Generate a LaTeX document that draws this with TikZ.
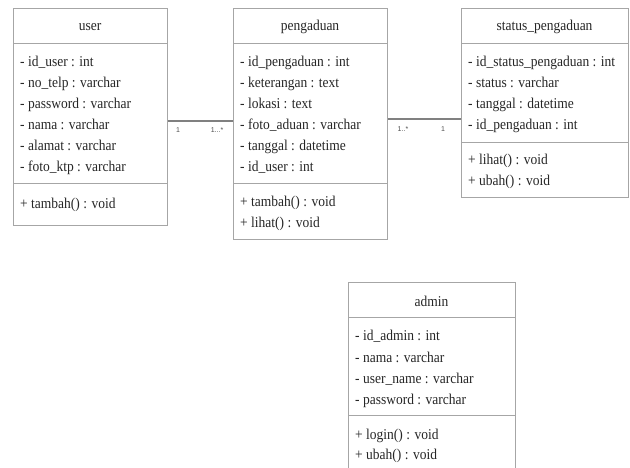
\documentclass[tikz,border=0pt]{standalone}
\usepackage{fontspec}
\setmainfont{Liberation Serif}
\newfontfamily\umlfont[FakeStretch=0.9]{Liberation Serif}
\newfontfamily\multfont{Liberation Sans}
\begin{document}
\begin{tikzpicture}[x=1pt,y=-1pt,
  box/.style={draw=black!35, line width=0.9pt, inner sep=0pt, anchor=north west},
  sep/.style={draw=black!35, line width=0.9pt},
  title/.style={font=\umlfont\fontsize{15}{17}\selectfont, text=black!85, anchor=base},
  row/.style={font=\umlfont\fontsize{15}{17}\selectfont, text=black!85, anchor=base west, inner sep=0pt},
  assoc/.style={draw=black!50, line width=1.8pt},
  mult/.style={font=\multfont\fontsize{7}{8}\selectfont, text=black!70, anchor=base, inner sep=0pt}]
\useasboundingbox (0,0) rectangle (630,468);
% user
\node[box, minimum width=154pt, minimum height=217pt] (user) at (13,8) {};
\draw[sep] (13,43) -- (167,43) (13,183) -- (167,183);
\node[title] (ut) at (90,31) {user};
\node[row] (u1) at (20,67) {- id\_user : int};
\node[row] (u2) at (20,88) {- no\_telp : varchar};
\node[row] (u3) at (20,109) {- password : varchar};
\node[row] (u4) at (20,130) {- nama : varchar};
\node[row] (u5) at (20,151) {- alamat : varchar};
\node[row] (u6) at (20,172) {- foto\_ktp : varchar};
\node[row] (u7) at (20,209) {+ tambah() : void};
% pengaduan
\node[box, minimum width=154pt, minimum height=231pt] (peng) at (233,8) {};
\draw[sep] (233,43) -- (387,43) (233,183) -- (387,183);
\node[title] (pt) at (310,31) {pengaduan};
\node[row] (p1) at (240,67) {- id\_pengaduan : int};
\node[row] (p2) at (240,88) {- keterangan : text};
\node[row] (p3) at (240,109) {- lokasi : text};
\node[row] (p4) at (240,130) {- foto\_aduan : varchar};
\node[row] (p5) at (240,151) {- tanggal : datetime};
\node[row] (p6) at (240,172) {- id\_user : int};
\node[row] (p7) at (240,207) {+ tambah() : void};
\node[row] (p8) at (240,228) {+ lihat() : void};
% status_pengaduan
\node[box, minimum width=167pt, minimum height=189pt] (stat) at (461,8) {};
\draw[sep] (461,43) -- (628,43) (461,142) -- (628,142);
\node[title] (st) at (544.5,31) {status\_pengaduan};
\node[row] (s1) at (468,67) {- id\_status\_pengaduan : int};
\node[row] (s2) at (468,88) {- status : varchar};
\node[row] (s3) at (468,109) {- tanggal : datetime};
\node[row] (s4) at (468,130) {- id\_pengaduan : int};
\node[row] (s5) at (468,165) {+ lihat() : void};
\node[row] (s6) at (468,186) {+ ubah() : void};
% admin
\node[box, minimum width=167pt, minimum height=200pt] (adm) at (348,282) {};
\draw[sep] (348,317) -- (515,317) (348,415) -- (515,415);
\node[title] (at) at (431.5,306) {admin};
\node[row] (a1) at (355,341) {- id\_admin : int};
\node[row] (a2) at (355,362) {- nama : varchar};
\node[row] (a3) at (355,383) {- user\_name : varchar};
\node[row] (a4) at (355,404) {- password : varchar};
\node[row] (a5) at (355,439) {+ login() : void};
\node[row] (a6) at (355,459) {+ ubah() : void};
% associations
\draw[assoc] (user.east |- 0,121) -- (peng.west |- 0,121);
\draw[assoc] (peng.east |- 0,119) -- (stat.west |- 0,119);
\node[mult] (m1) at (178,133) {1};
\node[mult] (m2) at (217,133) {1...*};
\node[mult] (m3) at (403,132) {1..*};
\node[mult] (m4) at (443,132) {1};
\end{tikzpicture}
\end{document}
